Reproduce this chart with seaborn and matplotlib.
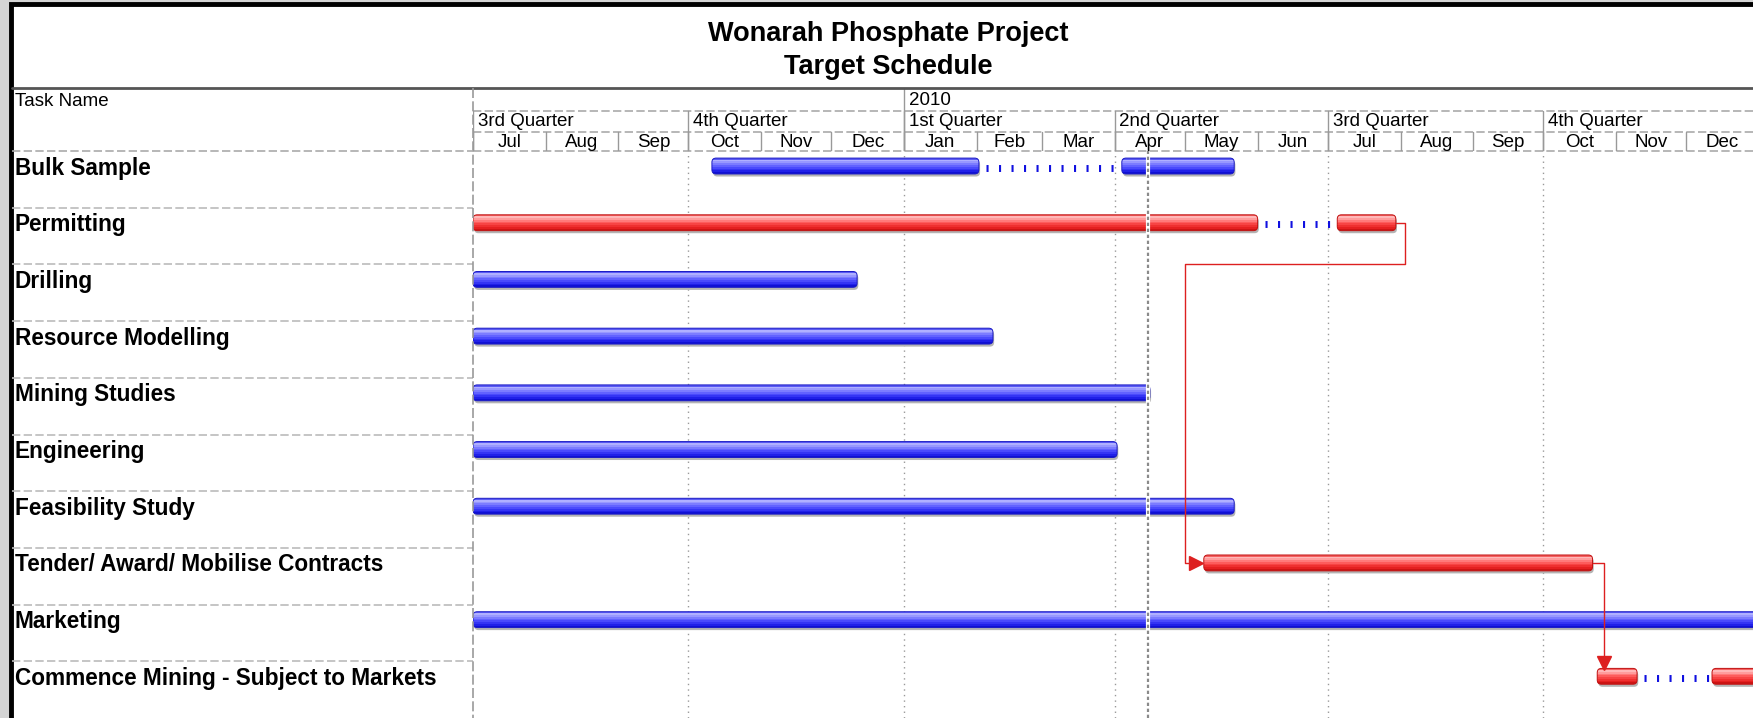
import numpy as np
import pandas as pd
import seaborn as sns
import matplotlib.pyplot as plt
import matplotlib.dates as mdates
import matplotlib.patches as mpatches
from matplotlib.lines import Line2D

sns.set_theme(style='white')
plt.rcParams['font.family'] = ['Liberation Sans', 'DejaVu Sans']

task_names = ['Bulk Sample', 'Permitting', 'Drilling', 'Resource Modelling', 'Mining Studies',
              'Engineering', 'Feasibility Study', 'Tender/ Award/ Mobilise Contracts',
              'Marketing', 'Commence Mining - Subject to Markets']
task_critical = [False, True, False, False, False, False, False, True, False, True]

seg_task = [0, 0, 1, 1, 2, 3, 4, 5, 6, 7, 8, 9, 9]
seg_start = ['2009-10-11', '2010-04-04', '2009-07-01', '2010-07-05', '2009-07-01', '2009-07-01',
             '2009-07-01', '2009-07-01', '2009-07-01', '2010-05-09', '2009-07-01', '2010-10-24',
             '2010-12-12']
seg_end = ['2010-02-02', '2010-05-22', '2010-06-01', '2010-07-30', '2009-12-12', '2010-02-08',
           '2010-04-16', '2010-04-02', '2010-05-22', '2010-10-22', '2011-06-30', '2010-11-10',
           '2011-06-30']

link_from = [1, 7]
link_to = [7, 9]

status_date = '2010-04-15'
view_start = '2009-07-01'
view_end = '2010-12-29 12:00'

quarter_starts = ['2009-07-01', '2009-10-01', '2010-01-01', '2010-04-01', '2010-07-01', '2010-10-01']
quarter_labels = ['3rd Quarter', '4th Quarter', '1st Quarter', '2nd Quarter', '3rd Quarter', '4th Quarter']
month_labels = ['Jul', 'Aug', 'Sep', 'Oct', 'Nov', 'Dec', 'Jan', 'Feb', 'Mar', 'Apr', 'May', 'Jun',
                'Jul', 'Aug', 'Sep', 'Oct', 'Nov', 'Dec']
year_starts = ['2010-01-01']
year_labels = ['2010']

segs = pd.DataFrame({'task': seg_task,
                     'start': mdates.date2num(pd.to_datetime(seg_start)),
                     'end': mdates.date2num(pd.to_datetime(seg_end))})

d = lambda s: mdates.date2num(pd.Timestamp(s))
x0, x1 = d(view_start), d(view_end)
month_edges = mdates.date2num(pd.date_range(view_start, periods=19, freq='MS'))

# ---- figure frame ----
W, H = 1753, 718
fig = plt.figure(figsize=(W / 100, H / 100), dpi=100)
fig.patch.set_facecolor('#d4d4d4')
fx = lambda px: px / W
fy = lambda py: 1 - py / H

fig.patches.append(mpatches.Rectangle((fx(11), -0.1), 1.2, fy(4) + 0.1, transform=fig.transFigure,
                                      facecolor='white', edgecolor='black', lw=3.5, zorder=-5))

fig.text(fx(888), fy(34), 'Wonarah Phosphate Project', ha='center', va='center',
         fontsize=19.5, fontweight='bold', color='black')
fig.text(fx(888), fy(67), 'Target Schedule', ha='center', va='center',
         fontsize=19.5, fontweight='bold', color='black')

fig.lines.append(Line2D([fx(12), 1], [fy(88), fy(88)], transform=fig.transFigure,
                        color='#555555', lw=2))
fig.lines.append(Line2D([fx(473), fx(473)], [fy(88), 0], transform=fig.transFigure,
                        color='#999999', lw=1.2, ls=(0, (6, 2))))
fig.lines.append(Line2D([fx(12), fx(473)], [fy(151), fy(151)], transform=fig.transFigure,
                        color='#aaaaaa', lw=1.2, ls=(0, (5, 2))))
fig.text(fx(15), fy(102), 'Task Name', ha='left', va='center', fontsize=13.5, color='black')

# ---- axes ----
ax = fig.add_axes([fx(473), 0, 1 - fx(473), fy(151)])
hx = fig.add_axes([fx(473), fy(151), 1 - fx(473), fy(88) - fy(151)])
lx = fig.add_axes([fx(12), 0, fx(473) - fx(12), fy(151)])
for a in (ax, hx, lx):
    a.set_facecolor('none')
    a.set_axis_off()
    a.set_zorder(2)

# ---- timescale header (y in pixel rows of the header band) ----
hx.set_xlim(x0, x1)
hx.set_ylim(151, 88)
row_sep = [110.5, 132, 151]
for yy in row_sep:
    hx.plot([x0, x1], [yy, yy], color='#aaaaaa', lw=1.2, ls=(0, (5, 2)), clip_on=False)
for ys, yl in zip(year_starts, year_labels):
    hx.plot([d(ys)] * 2, [88, 151], color='#999999', lw=1)
    hx.text(d(ys) + 2, 100.5, yl, ha='left', va='center', fontsize=13.5, color='black')
for qs, ql in zip(quarter_starts, quarter_labels):
    hx.plot([d(qs)] * 2, [110.5, 151], color='#999999', lw=1)
    hx.text(d(qs) + 2, 122, ql, ha='left', va='center', fontsize=13.5, color='black')
for i, ml in enumerate(month_labels):
    hx.plot([month_edges[i]] * 2, [132, 151], color='#999999', lw=1)
    hx.text((month_edges[i] + month_edges[i + 1]) / 2, 142.5, ml, ha='center', va='center',
            fontsize=13.5, color='black')

# ---- task name column ----
lx.set_xlim(0, 1)
lx.set_ylim(10, 0)
for i in range(1, 10):
    lx.plot([0, 1], [i, i], color='#bbbbbb', lw=1.2, ls=(0, (5, 2)))
for i, name in enumerate(task_names):
    lx.text(0.006, i + 0.3, name, ha='left', va='center', fontsize=16.3, fontweight='bold',
            color='black')

# ---- gantt bars ----
ax.set_xlim(x0, x1)
ax.set_ylim(10, 0)
bh = 0.28
yc = lambda t: t + 0.265

for qs in quarter_starts[1:]:
    ax.axvline(d(qs), color='#999999', lw=1, ls=(0, (1, 3)), zorder=1)

blue_grad = ['#5a5af4', '#b0b0ff', '#9898ff', '#7c7cff', '#6262ff', '#4a4afc', '#3434f4', '#2020e8', '#1010d4']
red_grad = ['#f46060', '#ffb8b8', '#ff9c9c', '#ff7a7a', '#fd5c5c', '#f74444', '#ef3030', '#e42020', '#cc1414']

n = len(blue_grad)
rx = 1.8                       # corner radius in days
asp = 0.075 / rx               # rows per day for the rounding
for _, r in segs.iterrows():
    t = int(r.task)
    grad = red_grad if task_critical[t] else blue_grad
    edge = '#c01010' if task_critical[t] else '#1a1ac4'
    w = r.end - r.start
    top = yc(t) - bh / 2
    shadow = mpatches.FancyBboxPatch((r.start + 0.5, top + 0.045), w, bh,
                                     boxstyle=f'round,pad=0,rounding_size={rx}', mutation_aspect=asp,
                                     facecolor='#b4b4b4', edgecolor='none', zorder=2)
    ax.add_patch(shadow)
    outline = mpatches.FancyBboxPatch((r.start, top), w, bh,
                                      boxstyle=f'round,pad=0,rounding_size={rx}', mutation_aspect=asp,
                                      facecolor='none', edgecolor=edge, lw=0.7, zorder=4)
    ax.add_patch(outline)
    for k, c in enumerate(grad):
        bars = ax.barh(top + (k + 0.5) * bh / n, w, left=r.start, height=bh / n * 1.15,
                       color=c, lw=0, zorder=3)
        for b in bars:
            b.set_clip_path(outline)

# split-task dotted links
for t, g in segs.groupby('task'):
    g = g.sort_values('start')
    for e, s in zip(g.end.values[:-1], g.start.values[1:]):
        ax.plot([e + 3, s - 1], [yc(t) + 0.03] * 2, color='#1010e0', lw=5,
                dashes=(0.3, 1.5), solid_capstyle='butt', dash_capstyle='butt', zorder=3)

# dependency links
lc = '#dd2020'
for a_t, b_t in zip(link_from, link_to):
    src_end = segs[segs.task == a_t].end.max()
    tgt_start = segs[segs.task == b_t].start.min()
    if tgt_start < src_end:
        xa = src_end + 4
        xb = tgt_start - 8
        ax.plot([src_end, xa, xa, xb, xb, tgt_start - 3],
                [yc(a_t), yc(a_t), a_t + 1, a_t + 1, yc(b_t), yc(b_t)], color=lc, lw=1, zorder=5)
        ax.plot(tgt_start - 3.2, yc(b_t), marker='>', color=lc, markersize=10, zorder=5)
    else:
        xa = src_end + 5
        ax.plot([src_end, xa, xa], [yc(a_t), yc(a_t), yc(b_t) - bh / 2 - 0.15],
                color=lc, lw=1, zorder=5)
        ax.plot(xa, yc(b_t) - bh / 2 - 0.1, marker='v', color=lc, markersize=10, zorder=5)

# status date line
ax.axvline(d(status_date), color='white', lw=3, zorder=6)
ax.axvline(d(status_date), color='#8a8a8a', lw=1.6, ls=(0, (1.5, 1.2)), zorder=7)

ax.set_xlim(x0, x1)
ax.set_ylim(10, 0)

plt.savefig('out.png', dpi=100, facecolor=fig.get_facecolor())
plt.close()
